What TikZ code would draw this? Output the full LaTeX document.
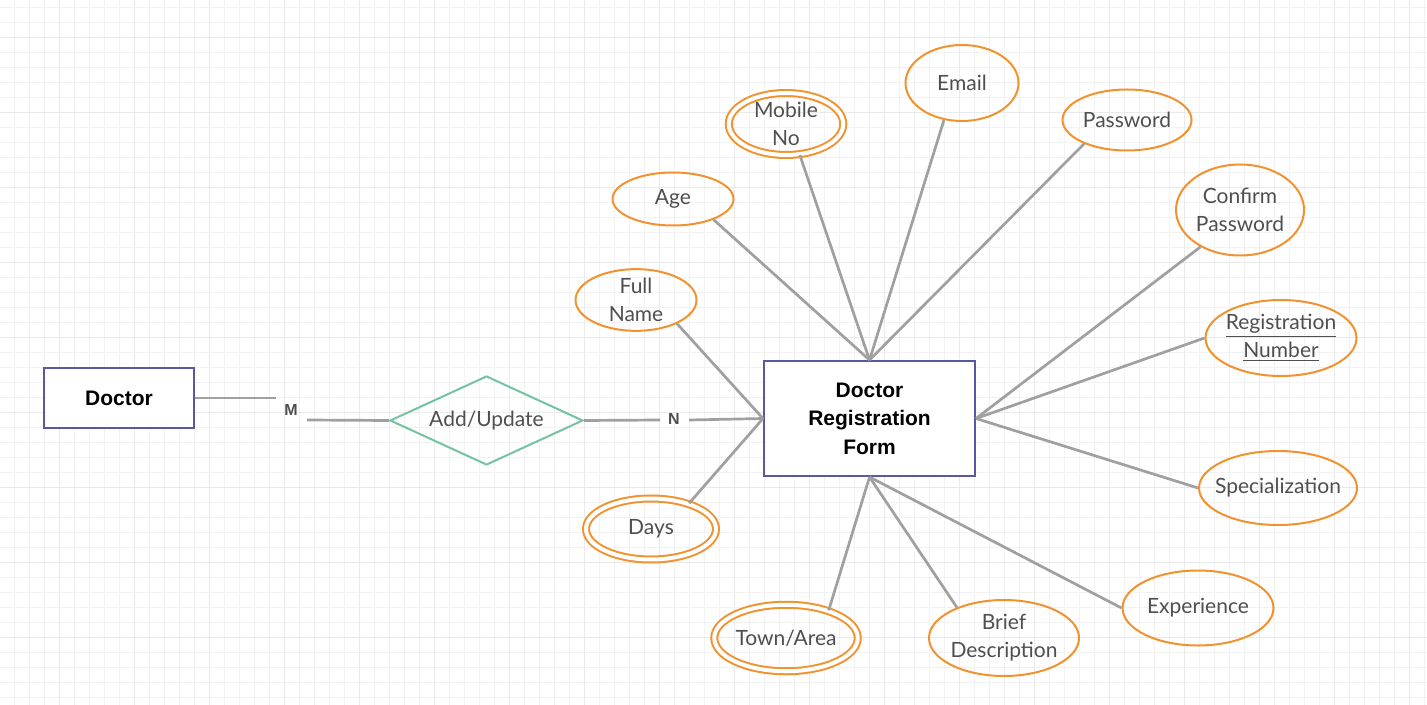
\documentclass[tikz,border=0pt]{standalone}
\usepackage{fontspec}
\setmainfont{Lato}
\newfontfamily\arialf{Liberation Sans}
\usetikzlibrary{shapes.geometric}
\definecolor{orangeC}{HTML}{F2922E}
\definecolor{purpleC}{HTML}{5A58A2}
\definecolor{greenC}{HTML}{74C3A1}
\definecolor{lineC}{HTML}{A0A0A0}
\definecolor{textC}{HTML}{4F4F4F}
\definecolor{gridC}{HTML}{F2F2F2}
\definecolor{gridD}{HTML}{EAEAEA}
\begin{document}
\begin{tikzpicture}[x=0.5pt,y=-0.5pt,
  attr/.style={ellipse, draw=orangeC, line width=1pt, inner sep=0pt, text=textC,
    font=\fontsize{10.5}{14}\selectfont, align=center},
  dattr/.style={attr, double=white, double distance=2pt},
  entity/.style={rectangle, draw=purpleC, fill=white, line width=1pt, inner sep=0pt,
    text=black, font=\arialf\bfseries\fontsize{10.5}{14.25}\selectfont, align=center},
  rel/.style={diamond, draw=greenC, line width=1pt, inner sep=0pt, text=textC,
    font=\fontsize{10.5}{14}\selectfont},
  conn/.style={draw=lineC, line width=1.35pt},
  card/.style={inner sep=0pt, text=textC, font=\arialf\bfseries\fontsize{8}{10}\selectfont}
]
\useasboundingbox (0,0) rectangle (1427,705);
\fill[white] (0,0) rectangle (1427,705);
\foreach \i in {0,...,94} \draw[gridC, line width=0.5pt] ({14+15*\i},0) -- ({14+15*\i},705);
\foreach \i in {0,...,46} \draw[gridC, line width=0.5pt] (0,{7.7+15*\i}) -- (1427,{7.7+15*\i});
\foreach \i in {0,...,18} \draw[gridD, line width=0.5pt] ({59+75*\i},0) -- ({59+75*\i},705);
\foreach \i in {0,...,9} \draw[gridD, line width=0.5pt] (0,{37.7+75*\i}) -- (1427,{37.7+75*\i});

% entities and relationship
\node[entity, minimum width=75pt, minimum height=30pt] (doc) at (119,398) {Doctor};
\node[entity, minimum width=105.5pt, minimum height=57.5pt] (drf) at (869.5,418.5) {Doctor\\Registration\\Form};
\node[rel, aspect=2.17, minimum width=96.5pt, minimum height=44.5pt] (rel) at (486.5,420.5) {\makebox[0pt]{Add/Update}};

% attributes
\node[dattr, minimum width=57.25pt, minimum height=31pt] (mob) at (786,124) {\makebox[0pt]{Mobile}\\No};
\node[attr, minimum width=56.5pt, minimum height=38pt] (email) at (962,83) {Email};
\node[attr, minimum width=64.5pt, minimum height=30.5pt] (pass) at (1127,120) {\makebox[0pt]{Password}};
\node[attr, minimum width=60.5pt, minimum height=26.5pt] (age) at (673,199) {Age};
\node[attr, minimum width=64pt, minimum height=45.5pt] (cpass) at (1240,210) {\makebox[0pt]{Confirm}\\\makebox[0pt]{Password}};
\node[attr, minimum width=60.5pt, minimum height=30pt] (fname) at (636,300) {Full\\Name};
\node[attr, minimum width=75.5pt, minimum height=38pt] (regno) at (1281,338) {\makebox[0pt]{\underline{Registration}}\\\underline{Number}};
\node[attr, minimum width=79pt, minimum height=37pt] (spec) at (1278,488) {\makebox[0pt]{Specialization}};
\node[dattr, minimum width=65pt, minimum height=30.5pt] (days) at (651,529) {Days};
\node[dattr, minimum width=71.75pt, minimum height=33.25pt] (town) at (786,638) {\makebox[0pt]{Town/Area}};
\node[attr, minimum width=75pt, minimum height=38pt] (brief) at (1004,638) {Brief\\\makebox[0pt]{Description}};
\node[attr, minimum width=75.5pt, minimum height=37.5pt] (exp) at (1198,608) {\makebox[0pt]{Experience}};

% cardinality labels
\node[card] (m) at (291,410) {M};
\node[card] (n) at (674,419) {N};
\coordinate (m1) at (276,398);
\coordinate (m2) at (307,420);
\coordinate (n1) at (660,420);
\coordinate (n2) at (689,420);

% connectors
\draw[conn] (doc.east) -- (m1);
\draw[conn] (m2) -- (rel.west);
\draw[conn] (rel.east) -- (n1);
\draw[conn] (n2) -- (drf.west);

\draw[conn] (age.-27) -- (drf.north);
\draw[conn] (mob.-66) -- (drf.north);
\draw[conn] (email.-116) -- (drf.north);
\draw[conn] (pass.-151) -- (drf.north);
\draw[conn] (cpass.-137) -- (drf.east);
\draw[conn] (regno.180) -- (drf.east);
\draw[conn] (spec.180) -- (drf.east);
\draw[conn] (exp.180) -- (drf.south);
\draw[conn] (brief.147) -- (drf.south);
\draw[conn] (town.33) -- (drf.south);
\draw[conn] (days.34) -- (drf.west);
\draw[conn] (fname.-30) -- (drf.west);
\end{tikzpicture}
\end{document}
